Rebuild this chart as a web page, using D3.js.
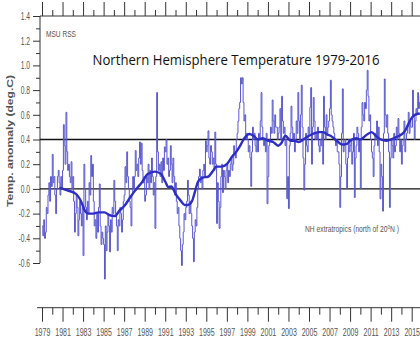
<!DOCTYPE html>
<html>
<head>
<meta charset="utf-8">
<script src="https://cdn.jsdelivr.net/npm/d3@7"></script>
<style>
  body { margin: 0; background: #fff; }
  svg { display: block; }
</style>
</head>
<body>
<div class="chart"></div>
<script>
//####################  1.  Data  ####################//

var startYear = 1979;

// monthly NH extratropics anomalies (deg C), one row per year
var monthlyAnomaly = [
    -0.30, -0.38, -0.25, -0.40, -0.35, -0.15, -0.20, -0.05, 0.05, -0.10, 0.10, 0.02,   // 1979
    0.28, 0.05, 0.10, -0.05, -0.20, 0.00, 0.10, 0.15, 0.05, -0.05, 0.10, 0.00,         // 1980
    0.15, 0.52, 0.35, 0.20, 0.62, 0.30, 0.15, 0.20, 0.10, 0.05, 0.22, 0.00,            // 1981
    0.10, -0.10, -0.35, -0.20, -0.05, -0.15, -0.38, -0.25, -0.10, -0.20, -0.30, -0.15, // 1982
    -0.54, 0.20, 0.00, -0.15, -0.25, -0.10, -0.20, 0.05, -0.05, 0.27, 0.10, 0.20,      // 1983
    -0.10, -0.30, -0.25, -0.40, -0.20, -0.35, -0.15, 0.04, -0.30, -0.45, -0.35, -0.40, // 1984
    -0.45, -0.73, -0.30, -0.50, -0.35, -0.20, -0.30, -0.51, -0.25, -0.35, -0.15, -0.20,// 1985
    0.07, -0.10, -0.20, -0.30, -0.50, -0.25, -0.30, -0.15, -0.20, -0.35, -0.25, -0.10, // 1986
    -0.05, 0.18, 0.05, 0.30, 0.10, 0.00, -0.10, -0.15, -0.30, -0.05, 0.10, 0.00,       // 1987
    0.10, 0.31, 0.15, 0.20, 0.10, 0.25, 0.38, 0.20, 0.37, 0.15, 0.05, 0.10,            // 1988
    -0.10, -0.05, 0.10, 0.05, 0.20, 0.00, 0.15, 0.05, 0.25, 0.10, -0.05, 0.05,         // 1989
    -0.32, 0.10, 0.78, 0.30, 0.15, 0.20, 0.10, 0.22, 0.05, 0.25, 0.15, 0.34,           // 1990
    0.30, 0.40, 0.20, 0.25, 0.10, 0.15, 0.35, 0.20, 0.05, 0.25, 0.10, -0.05,           // 1991
    0.05, -0.10, -0.20, -0.15, -0.30, -0.40, -0.50, -0.62, -0.45, -0.35, -0.20, -0.25, // 1992
    -0.15, -0.10, 0.07, -0.05, -0.20, -0.10, -0.20, -0.30, -0.40, -0.59, -0.35, -0.25, // 1993
    -0.30, -0.15, 0.00, 0.10, 0.16, 0.05, 0.10, 0.00, 0.15, 0.20, 0.10, 0.39,          // 1994
    0.30, 0.35, 0.47, 0.25, 0.20, 0.35, 0.30, 0.20, 0.25, 0.15, 0.46, 0.20,            // 1995
    -0.28, 0.05, -0.10, -0.32, -0.15, 0.10, 0.20, -0.03, 0.15, 0.10, 0.00, 0.15,       // 1996
    0.20, 0.05, 0.15, 0.10, 0.20, 0.25, 0.15, 0.20, 0.35, 0.30, 0.25, 0.40,            // 1997
    0.45, 0.55, 0.65, 0.70, 0.90, 0.85, 0.90, 0.70, 0.55, 0.60, 0.40, 0.45,            // 1998
    0.40, 0.30, 0.35, 0.25, 0.02, 0.30, 0.50, 0.40, 0.45, 0.35, 0.30, 0.40,            // 1999
    0.30, 0.45, 0.40, 0.55, 0.78, 0.50, 0.40, 0.35, 0.40, 0.30, 0.45, -0.12,           // 2000
    0.10, 0.35, 0.40, 0.50, 0.45, 0.72, 0.55, 0.45, 0.60, 0.50, 0.50, 0.40,            // 2001
    0.45, 0.50, 0.65, 0.40, 0.75, 0.55, 0.45, 0.50, 0.35, 0.40, -0.08, 0.10,           // 2002
    -0.16, 0.35, 0.45, 0.67, 0.50, 0.40, 0.45, 0.30, 0.40, 0.55, 0.45, 0.78,           // 2003
    0.55, 0.40, 0.60, 0.84, 0.50, 0.25, -0.01, 0.20, 0.45, 0.35, 0.30, 0.50,           // 2004
    0.45, 0.66, 0.82, 0.20, 0.50, 0.74, 0.55, 0.40, 0.45, 0.40, 0.50, 0.35,            // 2005
    0.30, 0.40, 0.35, 0.45, 0.20, 0.75, 0.50, 0.40, 0.60, 0.45, 0.50, 0.55,            // 2006
    0.65, 0.88, 0.60, 0.55, 0.50, 0.45, 0.40, 0.35, 0.40, 0.30, 0.30, 0.20,            // 2007
    -0.15, 0.10, 0.45, 0.81, 0.30, 0.35, 0.40, 0.20, 0.00, 0.25, 0.40, 0.30,           // 2008
    0.35, 0.40, 0.20, 0.30, 0.45, -0.07, 0.25, 0.35, 0.50, 0.45, 0.30, 0.40,           // 2009
    0.00, 0.50, 0.70, 0.60, 0.55, 0.70, 0.65, 0.80, 0.96, 0.75, 0.55, 0.60,            // 2010
    0.40, 0.30, 0.25, 0.10, 0.35, 0.45, 0.40, 0.55, 0.35, 0.50, 0.30, -0.08,           // 2011
    0.20, 0.10, -0.18, 0.45, 0.89, 0.60, 0.50, 0.60, 0.45, 0.30, -0.15, 0.25,          // 2012
    0.40, 0.35, 0.25, 0.45, 0.30, 0.35, 0.50, 0.40, 0.57, 0.45, 0.30, 0.40,            // 2013
    0.20, 0.35, 0.40, 0.55, 0.30, 0.40, 0.45, 0.50, 0.62, 0.45, 0.55, 0.50,            // 2014
    0.50, 0.80, 0.60, 0.40, 0.55, 0.65, 0.60, 0.78, 0.65, 0.70, 0.75, 0.60,            // 2015
    0.90, 1.05, 0.85, 0.70, 0.55, 0.45                                                 // 2016
];

// running mean (thick line)
var smoothYears = [1980.7, 1981.4, 1982.3, 1982.8, 1983.2, 1983.5, 1984.0, 1984.5, 1985.1, 1985.5,
    1986.1, 1986.5, 1987.05, 1987.5, 1988.0, 1988.35, 1988.7, 1989.3, 1990.0, 1990.6,
    1991.0, 1991.3, 1991.6, 1992.0, 1992.5, 1992.9, 1993.2, 1993.6, 1993.9, 1994.2,
    1994.6, 1995.2, 1995.6, 1996.0, 1996.5, 1997.0, 1997.5, 1998.0, 1998.3, 1998.7,
    1999.2, 1999.6, 2000.05, 2000.5, 2001.0, 2001.5, 2002.0, 2002.3, 2002.7, 2003.2,
    2003.6, 2004.0, 2004.45, 2005.0, 2005.5, 2006.0, 2006.4, 2006.8, 2007.1, 2007.7,
    2008.2, 2008.7, 2009.0, 2009.6, 2010.0, 2010.5, 2011.1, 2011.5, 2012.0, 2012.55,
    2013.0, 2013.5, 2014.0, 2014.35, 2014.7, 2015.0, 2015.3, 2015.8];
var smoothValues = [0.01, -0.01, -0.04, -0.10, -0.18, -0.20, -0.20, -0.19, -0.19, -0.21,
    -0.22, -0.18, -0.135, -0.08, -0.02, 0.015, 0.05, 0.12, 0.14, 0.12,
    0.06, 0.015, 0.02, -0.04, -0.095, -0.13, -0.13, -0.10, -0.02, 0.06,
    0.09, 0.10, 0.14, 0.18, 0.18, 0.20, 0.26, 0.31, 0.35, 0.41,
    0.445, 0.43, 0.40, 0.41, 0.39, 0.38, 0.35, 0.37, 0.43, 0.39,
    0.39, 0.38, 0.40, 0.43, 0.45, 0.46, 0.46, 0.44, 0.43, 0.39,
    0.36, 0.365, 0.39, 0.41, 0.40, 0.43, 0.46, 0.43, 0.40, 0.39,
    0.40, 0.42, 0.44, 0.47, 0.53, 0.575, 0.60, 0.61];

// axis ticks and labels
var majorYears = [1979, 1981, 1983, 1985, 1987, 1989, 1991, 1993, 1995, 1997, 1999,
    2001, 2003, 2005, 2007, 2009, 2011, 2013, 2015];
var minorYears = [1980, 1982, 1984, 1986, 1988, 1990, 1992, 1994, 1996, 1998, 2000,
    2002, 2004, 2006, 2008, 2010, 2012, 2014, 2016];
var yMajorTicks = [-0.6, -0.4, -0.2, 0.0, 0.2, 0.4, 0.6, 0.8, 1.0, 1.2, 1.4];
var yMinorTicks = [-0.5, -0.3, -0.1, 0.1, 0.3, 0.5, 0.7, 0.9, 1.1, 1.3];
var refLines = [0.4, 0.0];


//####################  2.  SVG setup  ####################//

var svgWidth = 420;
var svgHeight = 340;
var axisLeftX = 40;
var bottomAxisY = 307.7;

// the tick labels are a very narrow face; squeeze a normal one
var narrow = "'Liberation Sans Narrow', 'Liberation Sans', sans-serif";
var squeeze = 0.64;

var svg = d3.select(".chart")
    .append("svg")
    .attr("width", svgWidth)
    .attr("height", svgHeight);

var xScale = d3.scaleLinear()
    .domain([1979, 2015])
    .range([42, 411.7]);

var yScale = d3.scaleLinear()
    .domain([-0.6, 1.4])
    .range([263, 16]);


//####################  3.  Axes  ####################//

function styleAxis(g) {
    g.select(".domain").remove();
    g.selectAll("line").attr("stroke", "#333").attr("stroke-width", 1);
}

// bottom: long ticks on odd years with labels, short ticks between
var bottomMajor = svg.append("g")
    .attr("transform", `translate(0, ${bottomAxisY})`)
    .call(d3.axisBottom(xScale).tickValues(majorYears).tickSize(14).tickPadding(7).tickFormat(d => d))
    .call(styleAxis);
bottomMajor.selectAll("text")
    .attr("transform", `scale(${squeeze},1)`)
    .style("font-family", narrow)
    .style("font-size", "11px")
    .attr("fill", "#555");

svg.append("g")
    .attr("transform", `translate(0, ${bottomAxisY})`)
    .call(d3.axisBottom(xScale).tickValues(minorYears).tickSize(7).tickFormat(""))
    .call(styleAxis);

svg.append("line")
    .attr("x1", 37).attr("x2", svgWidth)
    .attr("y1", bottomAxisY).attr("y2", bottomAxisY)
    .attr("stroke", "#333");

// top frame with upward ticks
svg.append("g")
    .attr("transform", `translate(0, ${yScale(1.4)})`)
    .call(d3.axisTop(xScale).tickValues(majorYears).tickSize(14).tickFormat(""))
    .call(styleAxis);
svg.append("g")
    .attr("transform", `translate(0, ${yScale(1.4)})`)
    .call(d3.axisTop(xScale).tickValues(minorYears).tickSize(6).tickFormat(""))
    .call(styleAxis);
svg.append("line")
    .attr("x1", axisLeftX).attr("x2", svgWidth)
    .attr("y1", yScale(1.4)).attr("y2", yScale(1.4))
    .attr("stroke", "#333");

// left axis; padding chosen so the squeezed labels end near x = 30
var leftMajor = svg.append("g")
    .attr("transform", `translate(${axisLeftX}, 0)`)
    .call(d3.axisLeft(yScale).tickValues(yMajorTicks).tickSize(7).tickPadding(10 / squeeze - 7).tickFormat(d => d.toFixed(1)))
    .call(styleAxis);
leftMajor.selectAll("text")
    .attr("transform", `scale(${squeeze},1)`)
    .style("font-family", narrow)
    .style("font-size", "10.5px")
    .attr("fill", "#555");

svg.append("g")
    .attr("transform", `translate(${axisLeftX}, 0)`)
    .call(d3.axisLeft(yScale).tickValues(yMinorTicks).tickSize(4).tickFormat(""))
    .call(styleAxis);

svg.append("line")
    .attr("x1", axisLeftX).attr("x2", axisLeftX)
    .attr("y1", yScale(1.4)).attr("y2", yScale(-0.6))
    .attr("stroke", "#333");


//####################  4.  Reference lines  ####################//

svg.selectAll(".refline")
    .data(refLines)
    .enter()
    .append("line")
    .attr("class", "refline")
    .attr("x1", axisLeftX).attr("x2", svgWidth)
    .attr("y1", d => yScale(d)).attr("y2", d => yScale(d))
    .attr("stroke", "#111")
    .attr("stroke-width", 1.3);


//####################  5.  Series  ####################//

var monthly = monthlyAnomaly.map((v, i) => ({ t: startYear + i / 12, v: v }));
// extra point so the last month gets its own step
monthly.push({ t: startYear + monthlyAnomaly.length / 12, v: monthlyAnomaly[monthlyAnomaly.length - 1] });

var stepLine = d3.line()
    .x(d => xScale(d.t))
    .y(d => yScale(d.v))
    .curve(d3.curveStepAfter);

svg.append("path")
    .datum(monthly)
    .attr("d", stepLine)
    .attr("fill", "none")
    .attr("stroke", "#5858cc")
    .attr("stroke-width", 1);

var smooth = smoothYears.map((t, i) => ({ t: t, v: smoothValues[i] }));

var smoothLine = d3.line()
    .x(d => xScale(d.t))
    .y(d => yScale(d.v))
    .curve(d3.curveMonotoneX);

svg.append("path")
    .datum(smooth)
    .attr("d", smoothLine)
    .attr("fill", "none")
    .attr("stroke", "#2e2ec4")
    .attr("stroke-width", 2.4)
    .attr("stroke-linejoin", "round");


//####################  6.  Texts  ####################//

svg.append("text")
    .attr("x", 236)
    .attr("y", 64.5)
    .attr("text-anchor", "middle")
    .attr("textLength", 287)
    .attr("lengthAdjust", "spacingAndGlyphs")
    .style("font-family", "'Open Sans', sans-serif")
    .style("font-size", "14px")
    .attr("fill", "#111")
    .text("Northern Hemisphere Temperature 1979-2016");

svg.append("text")
    .attr("x", 46)
    .attr("y", 36.5)
    .attr("textLength", 30)
    .attr("lengthAdjust", "spacingAndGlyphs")
    .style("font-family", narrow)
    .style("font-size", "9px")
    .attr("fill", "#555")
    .text("MSU RSS");

// NH label: squeeze to the width it has in the picture (about 94px)
var nhLabel = svg.append("text")
    .style("font-family", narrow)
    .style("font-size", "9px")
    .attr("fill", "#555");
nhLabel.append("tspan").text("NH extratropics (north of 20");
nhLabel.append("tspan").attr("dy", -3).style("font-size", "6px").text("0");
nhLabel.append("tspan").attr("dy", 3).text("N )");
var nhWidth = nhLabel.node().getComputedTextLength();
nhLabel.attr("transform", `translate(305, 232) scale(${94 / nhWidth}, 1)`);

svg.append("text")
    .attr("transform", "translate(12.5, 141) rotate(-90)")
    .attr("text-anchor", "middle")
    .attr("textLength", 132)
    .attr("lengthAdjust", "spacingAndGlyphs")
    .style("font-family", "'Liberation Sans', sans-serif")
    .style("font-size", "9px")
    .style("font-weight", "bold")
    .attr("fill", "#555")
    .text("Temp. anomaly (deg.C)");
</script>
</body>
</html>
